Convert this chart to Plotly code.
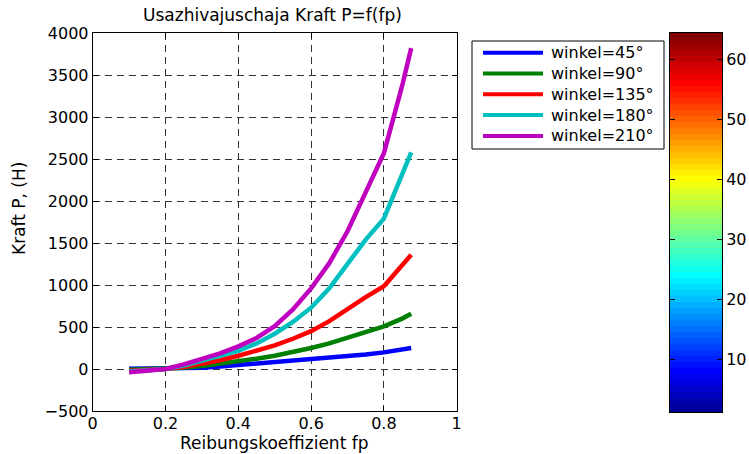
import plotly.graph_objects as go
import numpy as np

W, H = 749, 454

# ---- data ----
fp = [0.1, 0.15, 0.2, 0.25, 0.3, 0.35, 0.4, 0.45, 0.5, 0.55, 0.6, 0.65, 0.7, 0.75, 0.8, 0.85, 0.875]
p_45 = [2, 2, 4, 8, 15, 30, 48, 64, 80, 95, 110, 125, 145, 172, 198, 225, 250]
p_90 = [-10, -5, 0, 15, 35, 60, 92, 122, 157, 200, 250, 305, 370, 437, 507, 600, 658]
p_135 = [-20, -10, 0, 25, 60, 105, 158, 215, 280, 360, 450, 570, 715, 855, 985, 1225, 1360]
p_180 = [-30, -15, 0, 40, 95, 150, 215, 305, 420, 560, 730, 960, 1240, 1540, 1790, 2320, 2580]
p_210 = [-40, -20, 0, 55, 120, 185, 270, 370, 510, 710, 960, 1260, 1640, 2100, 2570, 3370, 3820]
series_names = ["winkel=45°", "winkel=90°", "winkel=135°", "winkel=180°", "winkel=210°"]
series_vals = [p_45, p_90, p_135, p_180, p_210]
series_colors = ["rgb(0,0,255)", "rgb(0,128,0)", "rgb(255,0,0)", "rgb(0,191,191)", "rgb(191,0,191)"]

cbar_levels = list(range(1, 65))
cbar_ticks = [10, 20, 30, 40, 50, 60]

# MATLAB jet(64)
def jet(m=64):
    n = int(np.ceil(m / 4))
    u = np.concatenate([np.arange(1, n + 1) / n, np.ones(n - 1), np.arange(n, 0, -1) / n])
    g = int(np.ceil(n / 2)) - (1 if m % 4 == 1 else 0) + np.arange(1, len(u) + 1)
    r = g + n
    b = g - n
    J = np.zeros((m, 3))
    for idx, val in zip(r, u):
        if 1 <= idx <= m:
            J[idx - 1, 0] = val
    for idx, val in zip(g, u):
        if 1 <= idx <= m:
            J[idx - 1, 1] = val
    for idx, val in zip(b, u):
        if 1 <= idx <= m:
            J[idx - 1, 2] = val
    return J

J = jet(64)
cols = ["rgb(%d,%d,%d)" % tuple(int(round(v * 255)) for v in row) for row in J]
cscale = []
for k, c in enumerate(cols):
    cscale.append([k / 64, c])
    cscale.append([(k + 1) / 64, c])

FONT = "DejaVu Sans"

def px_x(p):
    return p / W

def px_y(p):
    return 1 - p / H

fig = go.Figure()
for name, vals, col in zip(series_names, series_vals, series_colors):
    fig.add_trace(go.Scatter(x=fp, y=vals, mode="lines", name=name, showlegend=False,
                             line=dict(color=col, width=4.5),
                             xaxis="x", yaxis="y"))

fig.add_trace(go.Heatmap(z=[[v] for v in cbar_levels], y=cbar_levels, x=[0],
                         zmin=0.5, zmax=64.5, colorscale=cscale, showscale=False,
                         xaxis="x2", yaxis="y2", hoverinfo="skip"))

axis_common = dict(showline=True, linecolor="black", linewidth=1, mirror="ticks",
                   ticks="inside", ticklen=5, tickcolor="black",
                   tickfont=dict(family=FONT, size=16, color="black"),
                   zeroline=False, automargin=False)

# legend (drawn as a boxed key, MATLAB style)
LEG_L, LEG_R, LEG_T, LEG_B = 472, 664, 41, 149
ROW0, ROWH = 52.7, 20.8
shapes = [dict(type="rect", xref="paper", yref="paper",
               x0=px_x(LEG_L), x1=px_x(LEG_R), y0=px_y(LEG_B), y1=px_y(LEG_T),
               line=dict(color="black", width=1), fillcolor="white", layer="above")]
annotations = []
for i, (name, col) in enumerate(zip(series_names, series_colors)):
    yy = ROW0 + i * ROWH
    shapes.append(dict(type="line", xref="paper", yref="paper",
                       x0=px_x(483), x1=px_x(543), y0=px_y(yy), y1=px_y(yy),
                       line=dict(color=col, width=4), layer="above"))
    annotations.append(dict(text=name, x=px_x(549), y=px_y(yy), xref="paper", yref="paper",
                            showarrow=False, xanchor="left", yanchor="middle",
                            font=dict(family=FONT, size=16, color="black")))

annotations += [
    dict(text="Usazhivajuschaja Kraft P=f(fp)", x=px_x(272), y=px_y(15), xref="paper", yref="paper",
         showarrow=False, font=dict(family=FONT, size=17, color="black"), xanchor="center", yanchor="middle"),
    dict(text="Reibungskoeffizient fp", x=px_x(274), y=px_y(443), xref="paper", yref="paper",
         showarrow=False, font=dict(family=FONT, size=17, color="black"), xanchor="center", yanchor="middle"),
    dict(text="Kraft P, (H)", x=px_x(19), y=px_y(209), xref="paper", yref="paper", textangle=-90,
         showarrow=False, font=dict(family=FONT, size=17, color="black"), xanchor="center", yanchor="middle"),
]

fig.update_layout(
    template="none",
    width=W, height=H,
    margin=dict(l=0, r=0, t=0, b=0, pad=0),
    paper_bgcolor="white", plot_bgcolor="white",
    showlegend=False,
    xaxis=dict(domain=[px_x(92.7), px_x(456.7)], range=[0, 1], tickvals=[0, 0.2, 0.4, 0.6, 0.8, 1],
               ticktext=["0", "0.2", "0.4", "0.6", "0.8", "1"],
               showgrid=True, gridcolor="#333333", griddash="7px,5px", gridwidth=1,
               anchor="y", ticklabelstandoff=-2, **axis_common),
    yaxis=dict(domain=[px_y(411), px_y(33)], range=[-500, 4000],
               tickvals=list(range(-500, 4001, 500)),
               showgrid=True, gridcolor="#333333", griddash="7px,5px", gridwidth=1,
               anchor="x", **axis_common),
    xaxis2=dict(domain=[px_x(670), px_x(722)], range=[-0.5, 0.5], showticklabels=False,
                showline=True, linecolor="black", mirror=True, ticks="", showgrid=False,
                zeroline=False, anchor="y2", automargin=False),
    yaxis2=dict(domain=[px_y(412), px_y(33)], range=[1.2, 64.4], side="right",
                tickvals=cbar_ticks, showgrid=False, anchor="x2", **axis_common),
    shapes=shapes,
    annotations=annotations,
)

fig.write_html("out.html")
